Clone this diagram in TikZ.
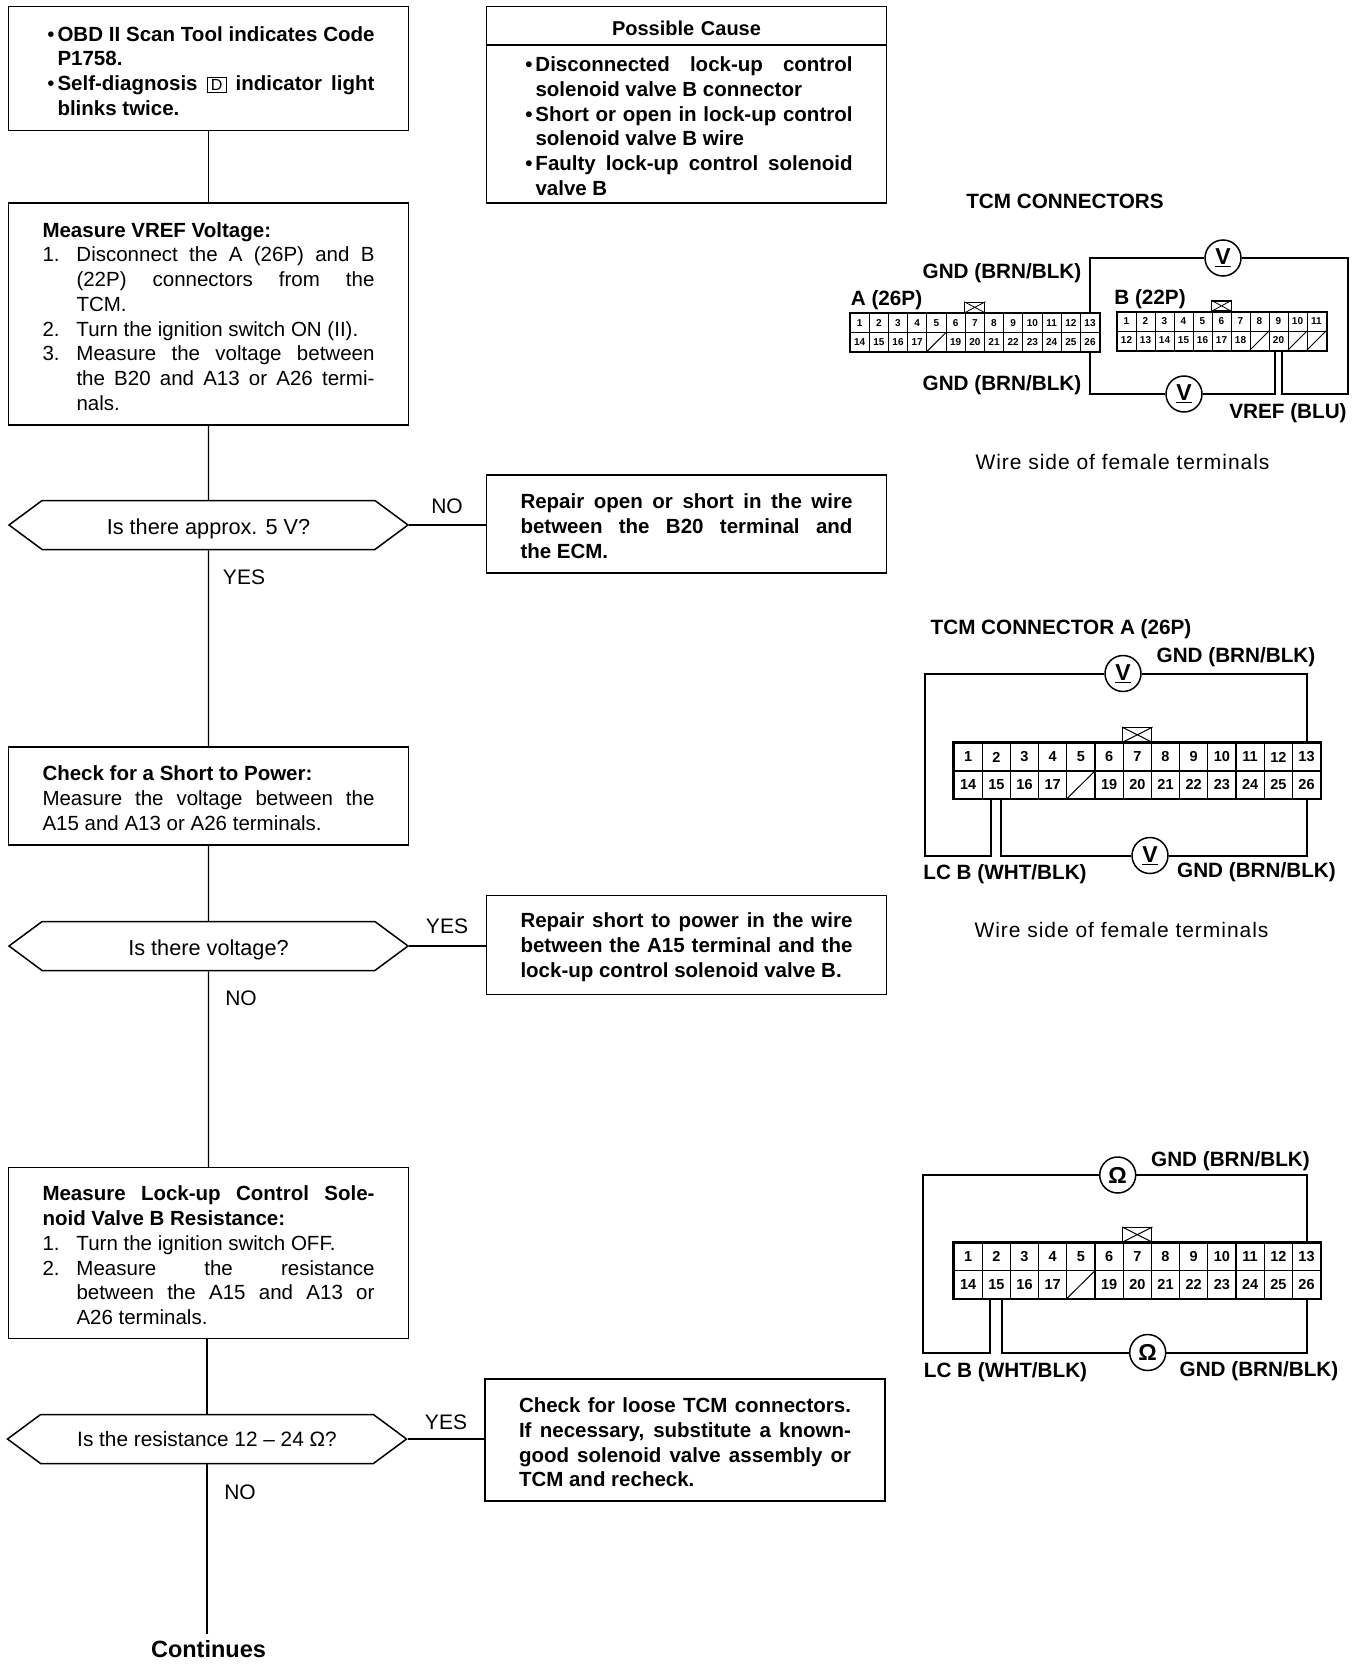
\documentclass[tikz,border=0pt]{standalone}
\usepackage{fontspec}
\setmainfont{Liberation Sans}
\usetikzlibrary{shapes.symbols}
\newcommand{\txt}{\fontsize{20.5}{24.7}\selectfont}
\newcommand{\stepitem}[2]{{\hangindent=34pt\hangafter=1\noindent\makebox[34pt][l]{#1}#2\par}}
\newcommand{\dotitem}[1]{{\hangindent=15pt\hangafter=1\noindent\makebox[15pt][r]{\textbullet\hspace{3pt}}#1\par}}
\newcommand{\indbox}{{\fboxsep=1.5pt\fboxrule=1pt\framebox[20pt]{\normalfont\fontsize{16}{16}\selectfont D}}}
\newcommand{\widetxt}{\addfontfeatures{LetterSpace=4.6}}
\newcommand{\lowtxt}[1]{\raisebox{-9.5pt}[0pt][0pt]{#1}}
\tikzset{
	flowbox/.style={draw,line width=1.5pt,inner sep=0pt,inner xsep=34pt,text width=332pt,align=justify,font=\txt,execute at begin node={\rule{0pt}{19.5pt}}},
	query/.style={draw,line width=1.5pt,signal,signal to=west and east,signal pointer angle=73,minimum width=399pt,minimum height=49pt,inner sep=0pt,font=\fontsize{21.7}{24}\selectfont},
	flowline/.style={line width=1.3pt},
	answer/.style={font=\fontsize{21}{24}\selectfont},
	lbl/.style={font=\fontsize{20.7}{24}\selectfont\bfseries,inner sep=0pt},
	wire/.style={line width=2pt,line join=miter},
	meter/.style={draw,circle,line width=1.5pt,minimum size=36pt,inner sep=0pt,font=\fontsize{23}{24}\selectfont\bfseries},
	smallcell/.style={draw,line width=1pt,minimum width=19.2pt,minimum height=19pt,inner sep=0pt,font=\fontsize{10}{10}\selectfont\bfseries},
	bigcell/.style={draw,line width=1.3pt,minimum width=28.2pt,minimum height=27.8pt,inner sep=0pt,font=\fontsize{14.5}{15}\selectfont\bfseries},
	tabbox/.style={draw,line width=1.3pt,inner sep=0pt},
}
\newcommand{\bigconn}[2]{%
	\foreach \n in {1,...,13} \node[bigcell] (#1\n) at ({968.1+(\n-1)*28.2},{#2}) {\n};
	\foreach \n in {14,...,26} \node[bigcell] (#1\n) at ({968.1+(\n-14)*28.2},{#2+27.8}) {\ifnum\n=18 \else\n\fi};
	\draw[line width=2pt] (#11.north west) rectangle (#126.south east);
	\draw[line width=1pt] (#118.south west) -- (#118.north east);
	\node[tabbox,minimum width=29pt,minimum height=14pt,anchor=south] (#1tab) at (#17.north) {};
	\draw[line width=1pt] (#1tab.north west) -- (#1tab.south east) (#1tab.south west) -- (#1tab.north east);
}
\begin{document}
\begin{tikzpicture}[x=1pt,y=-1pt]
	%\draw[help lines,step=100] (0,0) grid (1360,1664);
	\path[use as bounding box] (0,0) rectangle (1360,1664);

	% left column
	\node[flowbox,minimum height=124pt] (scan) at (208.5,68.7) {\dotitem{\textbf{OBD II Scan Tool indicates Code\linebreak P1758.}}\dotitem{\textbf{Self-diagnosis \indbox{} indicator light\linebreak blinks twice.}}};
	\node[flowbox,minimum height=222pt] (vref) at (208.5,314) {\textbf{Measure VREF Voltage:}\par
		\stepitem{1.}{Disconnect the A (26P) and B\linebreak (22P) connectors from the\linebreak TCM.}
		\stepitem{2.}{Turn the ignition switch ON (II).}
		\stepitem{3.}{Measure the voltage between\linebreak the B20 and A13 or A26 termi-\linebreak nals.}};
	\node[query] (fivev) at (208.5,525) {\lowtxt{Is there approx. 5 V?}};
	\node[flowbox,minimum height=98pt] (short) at (208.5,796) {\textbf{Check for a Short to Power:}\par\noindent Measure the voltage between the\linebreak A15 and A13 or A26 terminals.};
	\node[query] (volt) at (208.5,946) {\lowtxt{Is there voltage?}};
	\node[flowbox,minimum height=171pt] (resist) at (208.5,1253) {\textbf{Measure Lock-up Control Sole-\linebreak noid Valve B Resistance:}\par
		\stepitem{1.}{Turn the ignition switch OFF.}
		\stepitem{2.}{Measure the resistance\linebreak between the A15 and A13 or\linebreak A26 terminals.}};
	\node[query,font=\fontsize{20.8}{24}\selectfont] (ohms) at (207,1439) {Is the resistance 12 -- 24 Ω?};
	\node[inner sep=0pt,font=\fontsize{23.5}{24}\selectfont\bfseries,text height=15pt,text depth=0pt,inner ysep=8pt] (cont) at (208.5,1650) {Continues};

	% right column
	\node[flowbox,minimum height=39pt,align=center,font=\fontsize{20}{24}\selectfont\bfseries] (head) at (686.5,25.8) {Possible Cause};
	\node[flowbox,minimum height=158pt,font=\txt\bfseries] (cause) at (686.5,124) {\dotitem{Disconnected lock-up control\linebreak solenoid valve B connector}\dotitem{Short or open in lock-up control\linebreak solenoid valve B wire}\dotitem{Faulty lock-up control solenoid\linebreak valve B}};
	\node[flowbox,minimum height=98pt,font=\txt\bfseries] (rep1) at (686.5,524) {Repair open or short in the wire\linebreak between the B20 terminal and\linebreak the ECM.};
	\node[flowbox,minimum height=99pt,font=\txt\bfseries] (rep2) at (686.5,945) {Repair short to power in the wire\linebreak between the A15 terminal and the\linebreak lock-up control solenoid valve B.};
	\node[flowbox,minimum height=122pt,font=\txt\bfseries] (rep3) at (685,1440) {Check for loose TCM connectors.\linebreak If necessary, substitute a known-\linebreak good solenoid valve assembly or\linebreak TCM and recheck.};

	\draw[flowline] (scan) -- (vref);
	\draw[flowline] (vref) -- (fivev);
	\draw[flowline] (fivev) -- (short);
	\draw[flowline] (short) -- (volt);
	\draw[flowline] (volt) -- (resist);
	\draw[flowline] (resist.south -| ohms.north) -- (ohms.north);
	\draw[flowline] (ohms.south) -- (ohms.south |- cont.north);
	\draw[flowline] (fivev.east) -- (fivev.east -| rep1.west);
	\draw[flowline] (volt.east) -- (volt.east -| rep2.west);
	\draw[flowline] (ohms.east) -- (ohms.east -| rep3.west);

	\node[answer] (no1) at (447,506) {NO};
	\node[answer] (yes1) at (244,577) {YES};
	\node[answer] (yes2) at (447,926) {YES};
	\node[answer] (no2) at (241,998) {NO};
	\node[answer] (yes3) at (446,1422) {YES};
	\node[answer] (no3) at (240,1492) {NO};

	% first connectors
	\node[lbl] (title1) at (1065,201.7) {TCM CONNECTORS};
	\foreach \n in {1,...,13} \node[smallcell] (A\n) at ({859.6+(\n-1)*19.2},323) {\n};
	\foreach \n in {14,...,26} \node[smallcell] (A\n) at ({859.6+(\n-14)*19.2},342) {\ifnum\n=18 \else\n\fi};
	\draw[line width=2pt] (A1.north west) rectangle (A26.south east);
	\draw[line width=1pt] (A18.south west) -- (A18.north east);
	\node[tabbox,minimum width=20pt,minimum height=10pt,anchor=south] (tabA) at (A7.north) {};
	\draw[line width=.8pt] (tabA.north west) -- (tabA.south east) (tabA.south west) -- (tabA.north east);

	\foreach \n in {1,...,11} \node[smallcell,minimum width=19pt] (B\n) at ({1126.5+(\n-1)*19},321.5) {\n};
	\foreach \n in {12,...,18} \node[smallcell,minimum width=19pt] (B\n) at ({1126.5+(\n-12)*19},340.5) {\n};
	\node[smallcell,minimum width=19pt] (Bs8) at ({1126.5+7*19},340.5) {};
	\node[smallcell,minimum width=19pt] (B20) at ({1126.5+8*19},340.5) {20};
	\node[smallcell,minimum width=19pt] (Bs10) at ({1126.5+9*19},340.5) {};
	\node[smallcell,minimum width=19pt] (Bs11) at ({1126.5+10*19},340.5) {};
	\draw[line width=2pt] (B1.north west) rectangle (Bs11.south east);
	\draw[line width=1pt] (Bs8.south west) -- (Bs8.north east) (Bs10.south west) -- (Bs10.north east) (Bs11.south west) -- (Bs11.north east);
	\node[tabbox,minimum width=19.5pt,minimum height=10pt,anchor=south] (tabB) at (B6.north) {};
	\draw[line width=.8pt] (tabB.north west) -- (tabB.south east) (tabB.south west) -- (tabB.north east);

	\node[meter] (v1) at (1223,258) {\underline{V}};
	\node[meter] (v2) at (1184,394) {\underline{V}};
	\coordinate (w1) at (1348,394);
	\draw[wire] (A13.north) |- (v1.west);
	\draw[wire] (v1.east) -| (w1) -| ([xshift=3.7pt]B20.south);
	\draw[wire] (A26.south) |- (v2.west);
	\draw[wire] (v2.east) -| ([xshift=-3.7pt]B20.south);

	\node[lbl] (gnd1) at (1002,272.7) {GND (BRN/BLK)};
	\node[lbl] (gnd2) at (1002,385.3) {GND (BRN/BLK)};
	\node[lbl] (nameA) at (886.5,300) {A (26P)};
	\node[lbl] (nameB) at (1150,299) {B (22P)};
	\node[lbl] (vrefl) at (1288,413) {VREF (BLU)};
	\node[inner sep=0pt,font=\fontsize{21}{24}\selectfont\widetxt] (side1) at (1122.5,462.3) {Wire side of female terminals};

	% connector A, volts
	\node[lbl] (title2) at (1061,629) {TCM CONNECTOR A (26P)};
	\bigconn{P}{757}
	\node[meter] (v3) at (1123,673.5) {\underline{V}};
	\node[meter] (v4) at (1150,855.5) {\underline{V}};
	\coordinate (w2) at (925,855.5);
	\draw[wire] (P13.north) |- (v3.east);
	\draw[wire] (v3.west) -| (w2) -| ([xshift=-5.3pt]P15.south);
	\draw[wire] (P26.south) |- (v4.east);
	\draw[wire] (v4.west) -| ([xshift=5pt]P15.south);
	\node[lbl] (gnd3) at (1236,657) {GND (BRN/BLK)};
	\node[lbl] (lcb1) at (1005,874) {LC B (WHT/BLK)};
	\node[lbl] (gnd4) at (1256.5,872) {GND (BRN/BLK)};
	\node[inner sep=0pt,font=\fontsize{21}{24}\selectfont\widetxt] (side2) at (1121.5,930) {Wire side of female terminals};

	% connector A, ohms
	\bigconn{Q}{1256.8}
	\node[meter] (o1) at (1117.7,1175) {Ω};
	\node[meter] (o2) at (1147.7,1352.5) {Ω};
	\coordinate (w3) at (923,1352.5);
	\draw[wire] (Q13.north) |- (o1.east);
	\draw[wire] (o1.west) -| (w3) -| ([xshift=-6pt]Q15.south);
	\draw[wire] (Q26.south) |- (o2.east);
	\draw[wire] (o2.west) -| ([xshift=5.5pt]Q15.south);
	\node[lbl] (gnd5) at (1230.5,1161) {GND (BRN/BLK)};
	\node[lbl] (lcb2) at (1005.5,1372) {LC B (WHT/BLK)};
	\node[lbl] (gnd6) at (1259,1371) {GND (BRN/BLK)};
\end{tikzpicture}
\end{document}
